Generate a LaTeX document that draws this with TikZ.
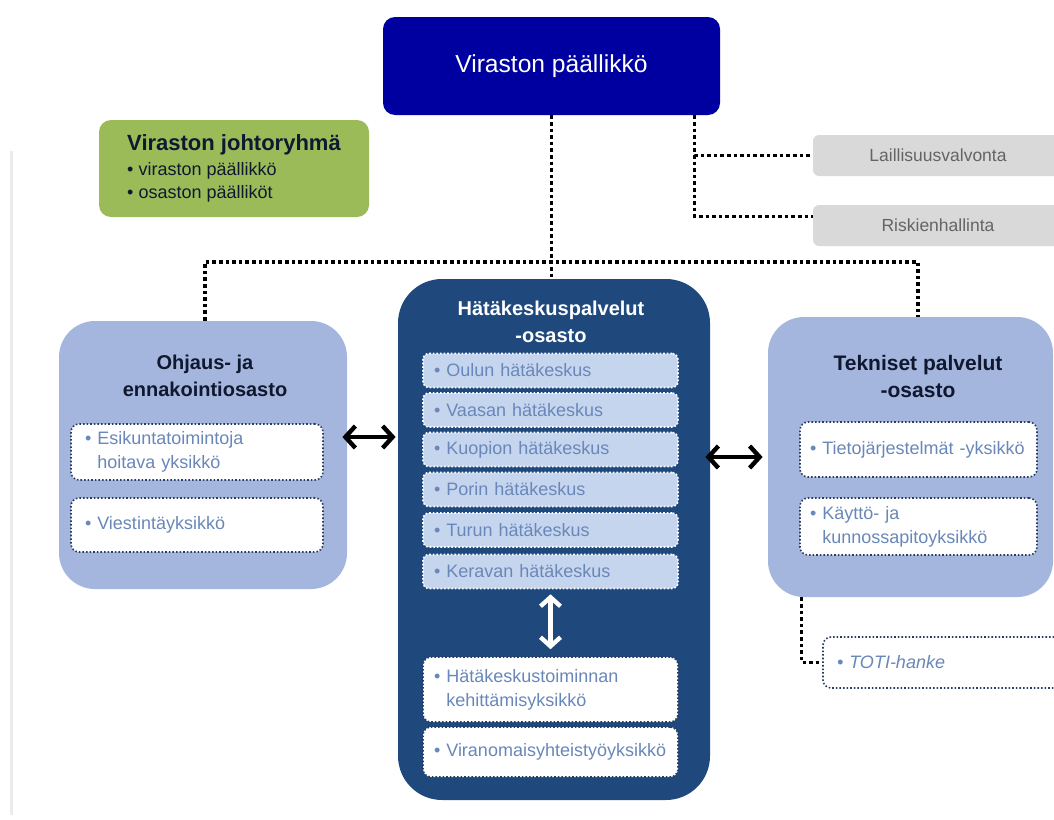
\documentclass[tikz,border=0pt]{standalone}
\usepackage{fontspec}
\setmainfont{Liberation Sans}
\usetikzlibrary{arrows.meta}
\definecolor{chiefblue}{RGB}{0,0,160}
\definecolor{boardgreen}{RGB}{155,187,89}
\definecolor{sidegray}{RGB}{217,217,217}
\definecolor{sidetext}{RGB}{100,100,100}
\definecolor{hksblue}{RGB}{31,73,125}
\definecolor{deptblue}{RGB}{164,182,221}
\definecolor{itemblue}{RGB}{198,213,238}
\definecolor{itemtext}{RGB}{105,135,185}
\definecolor{titlenavy}{RGB}{16,24,48}
\definecolor{edgenavy}{RGB}{40,60,100}
\begin{document}
\begin{tikzpicture}[x=0.5pt,y=-0.5pt,
    dotline/.style={line width=1.8pt,dash pattern=on 1.8pt off 1.5pt},
    barrow/.style={line width=2.2pt,{Straight Barb[length=5pt,width=11pt]}-{Straight Barb[length=5pt,width=11pt]}},
    chief/.style={fill=chiefblue,rounded corners=6pt,minimum width=168.5pt,minimum height=49pt,text=white,font=\fontsize{12.3}{14}\selectfont},
    board/.style={fill=boardgreen,rounded corners=6pt,minimum width=135pt,minimum height=48.5pt,align=left,text=titlenavy,font=\fontsize{9}{11.5}\selectfont},
    side/.style={fill=sidegray,rounded corners=3pt,minimum width=125pt,minimum height=20.5pt,text=sidetext,font=\fontsize{8.75}{10}\selectfont},
    dept/.style={fill=deptblue,rounded corners=18pt},
    dtitle/.style={align=center,text=titlenavy,font=\fontsize{10}{13.5}\selectfont\bfseries},
    hksitem/.style={fill=itemblue,draw=white,densely dotted,line width=0.8pt,rounded corners=3pt,minimum height=17pt,text width=116.5pt,inner xsep=5.5pt,align=left,text=itemtext,font=\fontsize{9}{12}\selectfont},
    wbox/.style={fill=white,draw=edgenavy,densely dotted,line width=0.8pt,rounded corners=4pt,align=left,text=itemtext,font=\fontsize{9}{12}\selectfont}
  ]
  \useasboundingbox (0,0) rectangle (1054,819);
  \clip (0,0) rectangle (1054,819);
  \draw[black!8,line width=1.5pt] (11,151) -- (11,815);

  \node[chief] (chief) at (551.5,66) {Viraston päällikkö};
  \node[board] (board) at (234,168.5) {{\fontsize{11}{13}\selectfont\bfseries Viraston johtoryhmä}\\[1pt]•~viraston päällikkö\\•~osaston päälliköt};
  \node[side] (laill) at (938,155.5) {Laillisuusvalvonta};
  \node[side] (risk) at (938,225.5) {Riskienhallinta};

  \node[fill=hksblue,rounded corners=22pt,minimum width=156pt,minimum height=260.5pt] (hks) at (554,539.5) {};
  \node[dtitle,text=white] (hkstitle) at (551,321.5) {Hätäkeskuspalvelut\\-osasto};
  \foreach \name/\txt/\y in {oulu/Oulun hätäkeskus/370.5,vaasa/Vaasan hätäkeskus/410,kuopio/Kuopion hätäkeskus/449.5,pori/Porin hätäkeskus/489.5,turku/Turun hätäkeskus/530,kerava/Keravan hätäkeskus/571.5} {
      \node[hksitem] (\name) at (550.5,\y) {•~\txt};
  }
  \node[wbox,text width=116.5pt,inner xsep=5.5pt,minimum height=32.5pt] (kehitys) at (550.5,689.5) {•~Hätäkeskustoiminnan\\\hphantom{•~}kehittämisyksikkö};
  \node[wbox,text width=116.5pt,inner xsep=5.5pt,minimum height=25pt] (viranom) at (550.5,752) {•~Viranomaisyhteistyöyksikkö};
  \draw[white,line width=2.2pt,{Straight Barb[length=4.5pt,width=10pt]}-{Straight Barb[length=4.5pt,width=10pt]},shorten <=2.5pt,shorten >=3.5pt] (kerava) -- (kehitys);

  \node[dept,minimum width=144pt,minimum height=134pt] (ohj) at (203,455) {};
  \node[dtitle] (ohjtitle) at (205,376) {Ohjaus- ja\\ennakointiosasto};
  \node[wbox,text width=112pt,inner xsep=7pt,minimum height=28pt] (esik) at (197,452) {•~Esikuntatoimintoja\\\hphantom{•~}hoitava yksikkö};
  \node[wbox,text width=112pt,inner xsep=7pt,minimum height=27pt] (viest) at (197,525) {•~Viestintäyksikkö};

  \node[dept,minimum width=142.5pt,minimum height=140pt] (tek) at (910.5,457) {};
  \node[dtitle,font=\fontsize{10.5}{13.5}\selectfont\bfseries] (tektitle) at (918,376.5) {Tekniset palvelut\\-osasto};
  \node[wbox,text width=108.5pt,inner xsep=5pt,minimum height=27.5pt] (tieto) at (918.5,449.5) {•~Tietojärjestelmät -yksikkö};
  \node[wbox,text width=108.5pt,inner xsep=5pt,minimum height=28.5pt] (kaytto) at (918.5,526.5) {•~Käyttö- ja\\\hphantom{•~}kunnossapitoyksikkö};
  \node[wbox,text width=111pt,inner xsep=7pt,minimum height=25.5pt,font=\fontsize{9}{12}\selectfont\itshape] (toti) at (948,662.5) {•~TOTI-hanke};

  \draw[dotline] (chief.south) -- (chief.south |- hks.north);
  \coordinate (bus) at (553,262);
  \draw[dotline] ([xshift=1pt]ohj.north) |- (bus) -| ([xshift=3.75pt]tek.north);
  \coordinate (br) at ([xshift=-13pt]chief.south east);
  \draw[dotline] (br) |- (laill.west);
  \draw[dotline] (br) |- ([yshift=4.5pt]risk.west);
  \draw[dotline] ([xshift=17pt]tek.south west) |- (toti.west);

  \coordinate (la) at ([yshift=9pt]ohj.east);
  \draw[barrow,shorten <=-2.5pt,shorten >=1pt] (la) -- (la -| hks.west);
  \draw[barrow,shorten <=-2.5pt,shorten >=2.5pt] (tek.west -| hks.east) -- (tek.west);
\end{tikzpicture}
\end{document}
